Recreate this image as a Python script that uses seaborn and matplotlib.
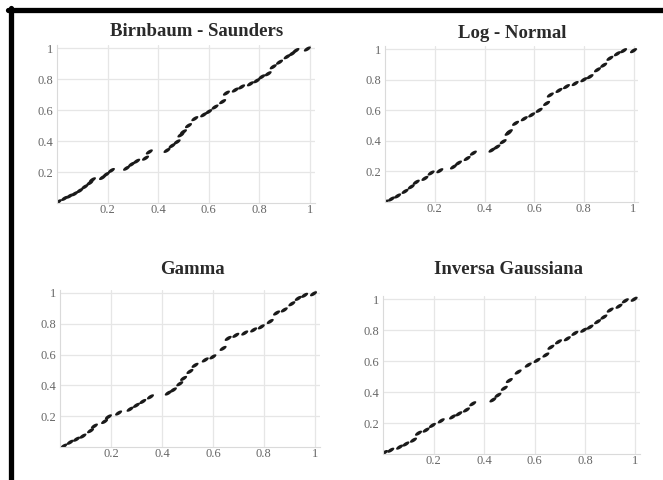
import matplotlib
matplotlib.use('Agg')
import matplotlib.pyplot as plt
from matplotlib.lines import Line2D
import seaborn as sns
import pandas as pd
import numpy as np

bs_x = [0.005, 0.03, 0.05, 0.07, 0.09, 0.11, 0.13, 0.14, 0.18, 0.195, 0.215, 0.275, 0.295,
        0.315, 0.35, 0.365, 0.435, 0.455, 0.475, 0.49, 0.5, 0.52, 0.545, 0.58, 0.6, 0.625,
        0.655, 0.67, 0.705, 0.73, 0.765, 0.79, 0.81, 0.835, 0.855, 0.88, 0.91, 0.93, 0.945, 0.99]
bs_y = [0.008, 0.03, 0.045, 0.06, 0.08, 0.105, 0.13, 0.15, 0.165, 0.185, 0.21, 0.225, 0.25,
        0.27, 0.29, 0.33, 0.34, 0.37, 0.395, 0.44, 0.46, 0.5, 0.545, 0.57, 0.59, 0.62,
        0.655, 0.71, 0.73, 0.75, 0.77, 0.79, 0.815, 0.835, 0.88, 0.91, 0.945, 0.965, 0.985, 0.995]

ln_x = [0.0, 0.025, 0.05, 0.08, 0.105, 0.125, 0.16, 0.185, 0.22, 0.275, 0.295, 0.33, 0.355,
        0.43, 0.45, 0.475, 0.495, 0.5, 0.525, 0.56, 0.59, 0.62, 0.65, 0.665, 0.7, 0.73,
        0.765, 0.8, 0.825, 0.855, 0.88, 0.905, 0.935, 0.96, 1.0]
ln_y = [0.0, 0.02, 0.04, 0.07, 0.1, 0.13, 0.155, 0.19, 0.205, 0.23, 0.255, 0.285, 0.32,
        0.34, 0.36, 0.395, 0.45, 0.46, 0.515, 0.545, 0.57, 0.6, 0.645, 0.7, 0.73, 0.755,
        0.775, 0.8, 0.82, 0.865, 0.895, 0.94, 0.97, 0.99, 0.99]

gm_x = [0.015, 0.04, 0.065, 0.09, 0.12, 0.135, 0.175, 0.19, 0.23, 0.275, 0.3, 0.325, 0.355,
        0.425, 0.445, 0.47, 0.485, 0.51, 0.53, 0.57, 0.6, 0.64, 0.66, 0.69, 0.725, 0.76,
        0.79, 0.825, 0.85, 0.88, 0.91, 0.935, 0.96, 0.995]
gm_y = [0.005, 0.03, 0.05, 0.07, 0.105, 0.135, 0.165, 0.195, 0.22, 0.245, 0.27, 0.295, 0.325,
        0.35, 0.37, 0.41, 0.445, 0.49, 0.53, 0.565, 0.585, 0.64, 0.705, 0.725, 0.74, 0.76,
        0.78, 0.815, 0.87, 0.89, 0.93, 0.965, 0.985, 0.995]

ig_x = [0.005, 0.03, 0.065, 0.09, 0.12, 0.14, 0.17, 0.195, 0.23, 0.275, 0.3, 0.33, 0.355,
        0.435, 0.455, 0.48, 0.5, 0.535, 0.575, 0.61, 0.645, 0.665, 0.695, 0.73, 0.76,
        0.795, 0.82, 0.85, 0.875, 0.9, 0.935, 0.96, 0.995]
ig_y = [0.01, 0.025, 0.045, 0.065, 0.09, 0.135, 0.155, 0.185, 0.215, 0.24, 0.26, 0.285, 0.325,
        0.35, 0.38, 0.425, 0.475, 0.53, 0.575, 0.605, 0.64, 0.69, 0.725, 0.745, 0.78,
        0.8, 0.82, 0.855, 0.885, 0.93, 0.955, 0.99, 1.0]

titles = ["Birnbaum - Saunders", "Log - Normal", "Gamma", "Inversa Gaussiana"]
series = [(bs_x, bs_y), (ln_x, ln_y), (gm_x, gm_y), (ig_x, ig_y)]
ticks = [0.2, 0.4, 0.6, 0.8, 1.0]
tick_labels = ["0.2", "0.4", "0.6", "0.8", "1"]

sns.set_style("white")
plt.rcParams['font.family'] = ['Liberation Serif', 'DejaVu Serif']

# short slanted dash marker, like the blurry points in the scan
t = np.linspace(0, 2 * np.pi, 25)
ang = np.deg2rad(32)
ex, ey = 1.0 * np.cos(t), 0.42 * np.sin(t)
dash = np.column_stack([ex * np.cos(ang) - ey * np.sin(ang),
                        ex * np.sin(ang) + ey * np.cos(ang)])

fig = plt.figure(figsize=(6.63, 4.80), dpi=100)

# axes boxes in figure fractions, title anchors in pixels
boxes = [[0.086, 0.577, 0.389, 0.329],
         [0.581, 0.579, 0.382, 0.325],
         [0.0905, 0.069, 0.392, 0.327],
         [0.578, 0.054, 0.388, 0.329]]
title_pos = [(197, 32), (512, 33), (192, 269), (508, 269)]

for box, (xs, ys), title, (tx, ty) in zip(boxes, series, titles, title_pos):
    ax = fig.add_axes(box)
    df = pd.DataFrame({"x": xs, "y": ys})
    sns.scatterplot(data=df, x="x", y="y", ax=ax, color="#1a1a1a", s=26,
                    marker=dash, edgecolor="none", legend=False)
    ax.set_xlim(0, 1.02)
    ax.set_ylim(0, 1.02)
    ax.set_xticks(ticks)
    ax.set_yticks(ticks)
    ax.set_xticklabels(tick_labels)
    ax.set_yticklabels(tick_labels)
    ax.tick_params(length=0, labelsize=9, colors="#666666", pad=1)
    ax.tick_params(axis='y', pad=3)
    ax.grid(True, color="#e6e6e6", linewidth=0.9)
    ax.set_xlabel("")
    ax.set_ylabel("")
    for side in ["top", "right"]:
        ax.spines[side].set_visible(False)
    for side in ["left", "bottom"]:
        ax.spines[side].set_color("#dadada")
        ax.spines[side].set_linewidth(0.8)
    fig.text(tx / 663, 1 - ty / 480, title, ha="center", va="center",
             fontsize=13.5, fontweight="bold", color="#2a2a2a")

# thick black frame on top and left edges of the scan
fig.add_artist(Line2D([8 / 663, 1], [1 - 10 / 480, 1 - 10 / 480], color="black",
                      linewidth=3.8, transform=fig.transFigure))
fig.add_artist(Line2D([10.5 / 663, 10.5 / 663], [0, 1 - 8 / 480], color="black",
                      linewidth=3.8, transform=fig.transFigure))

fig.savefig("out.png", dpi=100)
